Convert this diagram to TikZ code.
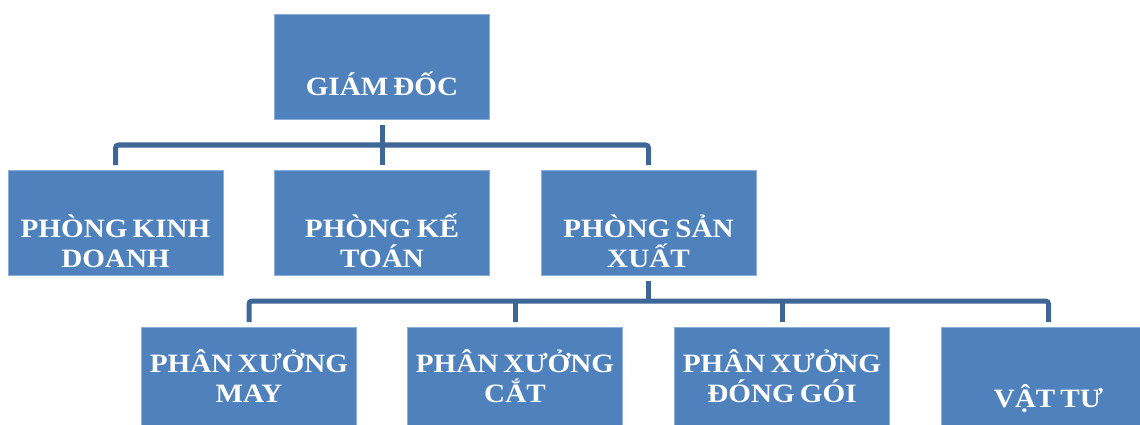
\documentclass[tikz,border=0pt]{standalone}
\usepackage{fontspec}
\newfontfamily\boxfont{Liberation Serif}[FakeStretch=1.1,WordSpace=0.7]
\definecolor{boxblue}{HTML}{4F81BD}
\definecolor{edgeblue}{HTML}{8EAEDA}
\definecolor{lineblue}{HTML}{3E6797}
\begin{document}
\begin{tikzpicture}[x=1pt,y=-1pt,
  box/.style={fill=boxblue,draw=edgeblue,line width=0.6pt,minimum width=215pt,minimum height=105pt,inner sep=0pt},
  lbl/.style={text=white,align=center,anchor=base,inner sep=0pt,font=\boxfont\bfseries\fontsize{26.5}{29.5}\selectfont},
  conn/.style={draw=lineblue,line width=5pt,rounded corners=3pt}]
\useasboundingbox (0,0) rectangle (1140,425);
% boxes
\node[box] (gd)  at (382,66.5) {};
\node[box] (pkd) at (115.5,223) {};
\node[box] (pkt) at (382,223) {};
\node[box] (psx) at (648.5,223) {};
\node[box] (may) at (249,380) {};
\node[box] (cat) at (515,380) {};
\node[box] (dg)  at (782,380) {};
\node[box] (vt)  at (1048.5,380) {};
% labels (base anchor = baseline of last line)
\node[lbl] (tgd)  at (382,96) {GIÁM ĐỐC};
\node[lbl] (tpkd) at (115.5,267) {PHÒNG KINH\\DOANH};
\node[lbl] (tpkt) at (382,267) {PHÒNG KẾ\\TOÁN};
\node[lbl] (tpsx) at (648.5,267) {PHÒNG SẢN\\XUẤT};
\node[lbl] (tmay) at (249,402) {PHÂN XƯỞNG\\MAY};
\node[lbl] (tcat) at (515,402) {PHÂN XƯỞNG\\CẮT};
\node[lbl] (tdg)  at (782,402) {PHÂN XƯỞNG\\ĐÓNG GÓI};
\node[lbl] (tvt)  at (1048.5,407) {VẬT TƯ};
% connectors
\coordinate (b1) at (382,145);
\coordinate (b2) at (648.5,301);
\draw[conn] ([yshift=5pt]pkd.north) |- (b1) -| ([yshift=5pt]psx.north);
\draw[conn] ([yshift=-6pt]gd.south) -- ([yshift=5pt]pkt.north);
\draw[conn] ([yshift=5pt]may.north) |- (b2) -| ([yshift=5pt]vt.north);
\draw[conn] ([yshift=-5pt]psx.south) -- (b2);
\draw[conn] (b2 -| cat.north) -- ([yshift=5pt]cat.north);
\draw[conn] (b2 -| dg.north) -- ([yshift=5pt]dg.north);
\end{tikzpicture}
\end{document}
